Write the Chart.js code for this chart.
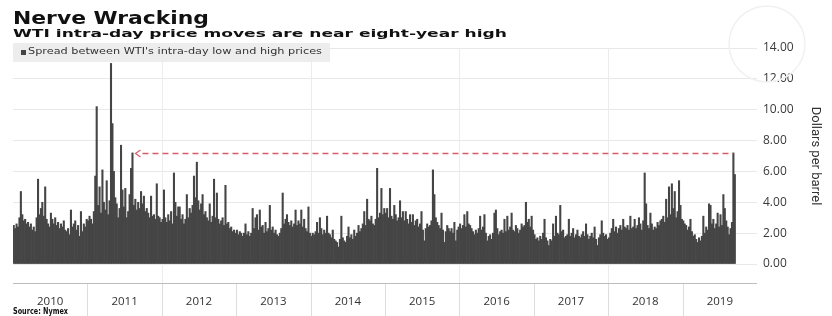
<!DOCTYPE html>
<html>
<head>
<meta charset="utf-8">
<script src="https://cdn.jsdelivr.net/npm/chart.js@4.4.1/dist/chart.umd.min.js"></script>
<style>
    body { margin: 0; background: #fff; }
    #wrap { position: relative; width: 832px; height: 316px; overflow: hidden; font-family: 'DejaVu Sans', sans-serif; }
    #grafico { position: absolute; left: 0; top: 0; }
    .txt { position: absolute; white-space: nowrap; line-height: 1; transform-origin: 0 0; }
    #titulo { left: 13px; top: 9.6px; font-size: 17px; font-weight: bold; color: #111; }
    #subtitulo { left: 13px; top: 27.7px; font-size: 11px; font-weight: bold; color: #111; }
    #legenda { position: absolute; left: 13px; top: 43px; width: 317px; height: 19px; background: rgba(236, 236, 236, 0.92); }
    #legendaMarca { position: absolute; left: 8px; top: 7px; width: 5px; height: 5px; background: #444; }
    #legendaTexto { left: 15px; top: 5.2px; font-size: 8px; color: #333; }
    #fonte { left: 13px; top: 308px; font-size: 8px; font-weight: bold; color: #111; }
</style>
</head>
<body>
<div id="wrap">
    <canvas id="grafico" width="832" height="316"></canvas>
    <div id="titulo" class="txt">Nerve Wracking</div>
    <div id="subtitulo" class="txt">WTI intra-day price moves are near eight-year high</div>
    <div id="legenda">
        <div id="legendaMarca"></div>
        <div id="legendaTexto" class="txt">Spread between WTI's intra-day low and high prices</div>
    </div>
    <div id="fonte" class="txt">Source: Nymex</div>
</div>
<script>
const anos = ['2010', '2011', '2012', '2013', '2014', '2015', '2016', '2017', '2018', '2019'];
const semanasPorAno = 52;
const ticksY = [0, 2, 4, 6, 8, 10, 12, 14];
const maximaRecente = 7.2;

// spread semanal aproximado (US$/barril)
const spread2010 = [2.5, 2.3, 2.6, 2.4, 3.0, 4.7, 3.2, 2.8, 2.9, 2.6, 2.7, 2.4, 2.6,
    2.2, 2.4, 2.1, 3.0, 5.5, 3.2, 3.6, 4.0, 3.1, 5.0, 2.9, 2.6, 2.4,
    3.3, 2.9, 2.6, 3.0, 2.5, 2.7, 2.3, 2.6, 2.4, 2.8, 2.2, 2.1, 2.3,
    1.9, 3.5, 2.4, 2.6, 2.8, 2.2, 2.5, 1.8, 3.4, 2.1, 2.6, 2.4, 2.9];
const spread2011 = [2.8, 3.1, 2.9, 2.6, 3.4, 5.7, 10.2, 3.8, 5.0, 3.3, 6.1, 4.0, 3.5,
    5.4, 3.2, 4.1, 13.0, 9.1, 6.0, 4.3, 3.9, 3.0, 3.6, 7.7, 4.8, 3.7,
    4.9, 3.0, 3.4, 4.5, 6.2, 7.2, 3.8, 4.2, 3.5, 4.0, 3.6, 4.7, 3.9,
    4.4, 3.4, 3.6, 3.3, 3.0, 4.4, 3.1, 3.2, 2.9, 5.2, 3.1, 3.0, 2.7];
const spread2012 = [2.9, 4.8, 3.0, 2.7, 3.2, 2.8, 3.4, 2.6, 5.9, 4.0, 3.1, 3.7, 3.7,
    2.9, 3.2, 2.6, 2.9, 4.5, 3.0, 3.6, 3.3, 3.8, 5.7, 4.3, 6.6, 4.1,
    3.5, 3.9, 4.5, 3.2, 3.4, 3.0, 2.8, 3.9, 2.7, 3.1, 5.5, 3.0, 4.6,
    2.9, 2.6, 2.8, 3.0, 2.5, 5.1, 2.6, 2.7, 2.3, 2.4, 2.1, 2.2, 2.0];
const spread2013 = [2.2, 1.9, 2.1, 2.0, 1.8, 2.0, 2.6, 1.9, 2.1, 1.8, 2.0, 3.6, 2.3,
    3.0, 3.2, 2.2, 3.5, 2.4, 2.5, 2.0, 2.7, 2.1, 2.3, 3.8, 2.2, 2.4,
    2.0, 2.2, 1.9, 1.8, 2.0, 2.3, 4.6, 2.6, 2.9, 3.2, 2.7, 2.5, 2.8,
    2.4, 2.6, 3.5, 2.5, 2.8, 2.6, 3.5, 2.4, 2.9, 2.3, 2.1, 3.7, 2.0];
const spread2014 = [1.8, 2.0, 1.9, 2.1, 2.7, 2.0, 3.0, 2.3, 1.9, 2.2, 2.0, 3.1, 2.0,
    1.9, 1.7, 2.2, 1.6, 1.5, 1.4, 1.1, 1.6, 3.1, 1.7, 1.5, 1.4, 1.8,
    2.4, 1.7, 1.9, 1.6, 2.2, 1.8, 2.0, 2.5, 2.1, 2.3, 2.6, 3.4, 2.5,
    4.2, 2.9, 2.8, 3.1, 2.6, 2.5, 2.9, 6.2, 3.0, 3.3, 4.9, 3.2, 3.6];
const spread2015 = [3.3, 3.6, 3.0, 4.9, 3.1, 2.9, 3.8, 3.2, 2.8, 3.0, 4.1, 3.0, 3.4,
    2.8, 3.4, 2.9, 2.6, 3.2, 2.7, 3.2, 2.5, 2.8, 2.9, 2.4, 2.6, 3.4,
    2.2, 1.5, 2.3, 2.6, 2.4, 2.5, 2.8, 6.1, 4.5, 3.0, 2.7, 2.5, 2.3,
    3.3, 2.2, 1.4, 2.1, 2.5, 2.3, 2.1, 2.3, 2.0, 2.7, 1.5, 2.2, 2.4];
const spread2016 = [2.6, 2.3, 2.5, 3.2, 2.4, 3.4, 2.6, 2.5, 2.3, 2.1, 1.9, 2.2, 2.0,
    2.3, 3.1, 2.2, 2.4, 3.2, 2.0, 1.5, 1.8, 1.9, 1.6, 2.0, 3.3, 3.5,
    2.3, 1.9, 2.1, 2.2, 2.0, 2.9, 2.1, 3.1, 2.2, 2.4, 3.3, 2.2, 2.1,
    2.5, 2.3, 2.0, 2.2, 2.6, 2.4, 2.5, 4.0, 2.7, 2.9, 2.4, 3.1, 2.2];
const spread2017 = [1.9, 1.6, 1.7, 1.5, 1.8, 1.6, 2.0, 2.9, 1.7, 1.5, 1.2, 1.6, 1.5,
    2.6, 1.8, 3.1, 2.0, 1.9, 3.8, 2.1, 2.2, 1.7, 1.8, 1.9, 2.9, 1.8,
    2.0, 2.3, 1.7, 1.9, 2.2, 1.8, 1.7, 1.9, 2.1, 1.8, 2.6, 1.9, 1.6,
    1.8, 2.0, 1.7, 2.4, 1.6, 1.2, 1.7, 1.9, 2.8, 2.0, 1.8, 1.9, 1.6];
const spread2018 = [1.7, 2.0, 2.3, 2.9, 2.1, 2.4, 2.0, 2.3, 2.5, 2.2, 2.9, 2.4, 2.3,
    2.5, 2.2, 3.1, 2.3, 2.4, 2.9, 2.3, 2.5, 3.0, 2.6, 2.2, 2.8, 5.9,
    3.9, 2.5, 2.3, 3.3, 2.6, 2.2, 2.4, 2.3, 2.7, 2.5, 2.8, 2.9, 3.1,
    2.7, 4.2, 3.0, 5.0, 3.2, 5.2, 3.6, 4.7, 3.0, 3.4, 5.4, 3.8, 2.9];
const spread2019 = [2.8, 2.6, 2.5, 2.2, 2.4, 2.9, 2.1, 1.8, 1.9, 1.6, 1.4, 1.7, 1.5,
    1.8, 3.1, 2.0, 2.4, 2.2, 3.9, 3.8, 2.6, 2.9, 2.3, 2.6, 3.3, 2.4,
    3.2, 2.5, 4.5, 3.6, 2.8, 2.4, 1.9, 2.3, 2.7, 7.2, 5.8];

const spread = [].concat(spread2010, spread2011, spread2012, spread2013, spread2014,
    spread2015, spread2016, spread2017, spread2018, spread2019);

const categorias = [];
anos.forEach(function (ano) {
    for (let s = 1; s <= semanasPorAno; s++) categorias.push(ano + '-S' + s);
});

function ajustarLargura(id, largura) {
    const el = document.getElementById(id);
    const atual = el.getBoundingClientRect().width;
    el.style.transform = 'scaleX(' + (largura / atual) + ')';
}

function limiteAno(xs, idx) {
    if (idx <= 0) return xs.left;
    if (idx >= categorias.length) return xs.right;
    return (xs.getPixelForValue(idx - 1) + xs.getPixelForValue(idx)) / 2;
}

const faixaAnos = {
    id: 'faixaAnos',
    beforeDatasetsDraw(chart) {
        const ctx = chart.ctx;
        const xs = chart.scales.x;
        const area = chart.chartArea;
        ctx.save();
        // marca d'agua
        ctx.strokeStyle = '#f1f1f1';
        ctx.lineWidth = 1.5;
        ctx.beginPath();
        ctx.arc(767, 44, 38, 0, Math.PI * 2);
        ctx.stroke();
        // linhas verticais a cada dois anos
        ctx.strokeStyle = '#ececec';
        ctx.lineWidth = 1;
        for (let a = 2; a < anos.length; a += 2) {
            const x = Math.round(limiteAno(xs, a * semanasPorAno)) + 0.5;
            ctx.beginPath();
            ctx.moveTo(x, area.top);
            ctx.lineTo(x, 283);
            ctx.stroke();
        }
        ctx.restore();
    },
    afterDatasetsDraw(chart) {
        const ctx = chart.ctx;
        const xs = chart.scales.x;
        const ys = chart.scales.y;
        const area = chart.chartArea;
        ctx.save();

        // linha tracejada da maxima recente
        const iIni = spread.indexOf(maximaRecente);
        const iFim = spread.lastIndexOf(maximaRecente);
        const yM = Math.round(ys.getPixelForValue(maximaRecente)) + 0.5;
        const x0 = xs.getPixelForValue(iIni) + 3;
        const x1 = xs.getPixelForValue(iFim);
        ctx.strokeStyle = '#d85c6c';
        ctx.lineWidth = 1.5;
        ctx.setLineDash([6, 4]);
        ctx.beginPath();
        ctx.moveTo(x0 + 7, yM);
        ctx.lineTo(x1, yM);
        ctx.stroke();
        ctx.setLineDash([]);
        ctx.lineWidth = 1.2;
        ctx.beginPath();
        ctx.moveTo(x0 + 5, yM - 3.5);
        ctx.lineTo(x0, yM);
        ctx.lineTo(x0 + 5, yM + 3.5);
        ctx.stroke();

        // eixo de anos
        ctx.strokeStyle = '#bdbdbd';
        ctx.lineWidth = 1;
        ctx.beginPath();
        ctx.moveTo(area.left, 283.5);
        ctx.lineTo(area.right, 283.5);
        ctx.stroke();
        ctx.strokeStyle = '#dddddd';
        ctx.font = '11.5px "Open Sans"';
        ctx.fillStyle = '#333';
        ctx.textAlign = 'center';
        ctx.textBaseline = 'alphabetic';
        anos.forEach(function (ano, a) {
            const xa = limiteAno(xs, a * semanasPorAno);
            const xb = limiteAno(xs, (a + 1) * semanasPorAno);
            if (a > 0) {
                ctx.beginPath();
                ctx.moveTo(Math.round(xa) + 0.5, 284);
                ctx.lineTo(Math.round(xa) + 0.5, 316);
                ctx.stroke();
            }
            ctx.fillText(ano, (xa + xb) / 2, 305);
        });
        ctx.restore();
    }
};

function renderizarGrafico() {
    const ctx = document.getElementById('grafico').getContext('2d');
    new Chart(ctx, {
        type: 'bar',
        data: {
            labels: categorias,
            datasets: [{
                label: "Spread between WTI's intra-day low and high prices",
                data: spread,
                backgroundColor: '#454545',
                borderWidth: 0,
                barPercentage: 1,
                categoryPercentage: 1
            }]
        },
        options: {
            responsive: false,
            animation: false,
            devicePixelRatio: 1,
            layout: { padding: { left: 13, top: 48, right: 0, bottom: 52 } },
            plugins: {
                legend: { display: false },
                tooltip: { enabled: false }
            },
            scales: {
                x: { display: false },
                y: {
                    position: 'right',
                    min: 0,
                    max: 14,
                    afterBuildTicks: function (scale) {
                        scale.ticks = ticksY.map(v => ({ value: v }));
                    },
                    afterFit: function (scale) {
                        scale.width = 75;
                    },
                    ticks: {
                        padding: 6,
                        color: '#3a3a3a',
                        font: { family: 'Open Sans', size: 12 },
                        callback: function (value) {
                            return value.toFixed(2);
                        }
                    },
                    grid: { color: '#e8e8e8', drawTicks: false },
                    border: { display: false },
                    title: {
                        display: true,
                        text: 'Dollars per barrel',
                        color: '#333',
                        font: { family: 'Roboto', size: 13 },
                        padding: { top: 9, bottom: 0 }
                    }
                }
            }
        },
        plugins: [faixaAnos]
    });
}

document.addEventListener('DOMContentLoaded', function () {
    ajustarLargura('titulo', 196);
    ajustarLargura('subtitulo', 494);
    ajustarLargura('legendaTexto', 294);
    ajustarLargura('fonte', 55);
    renderizarGrafico();
});
</script>
</body>
</html>
